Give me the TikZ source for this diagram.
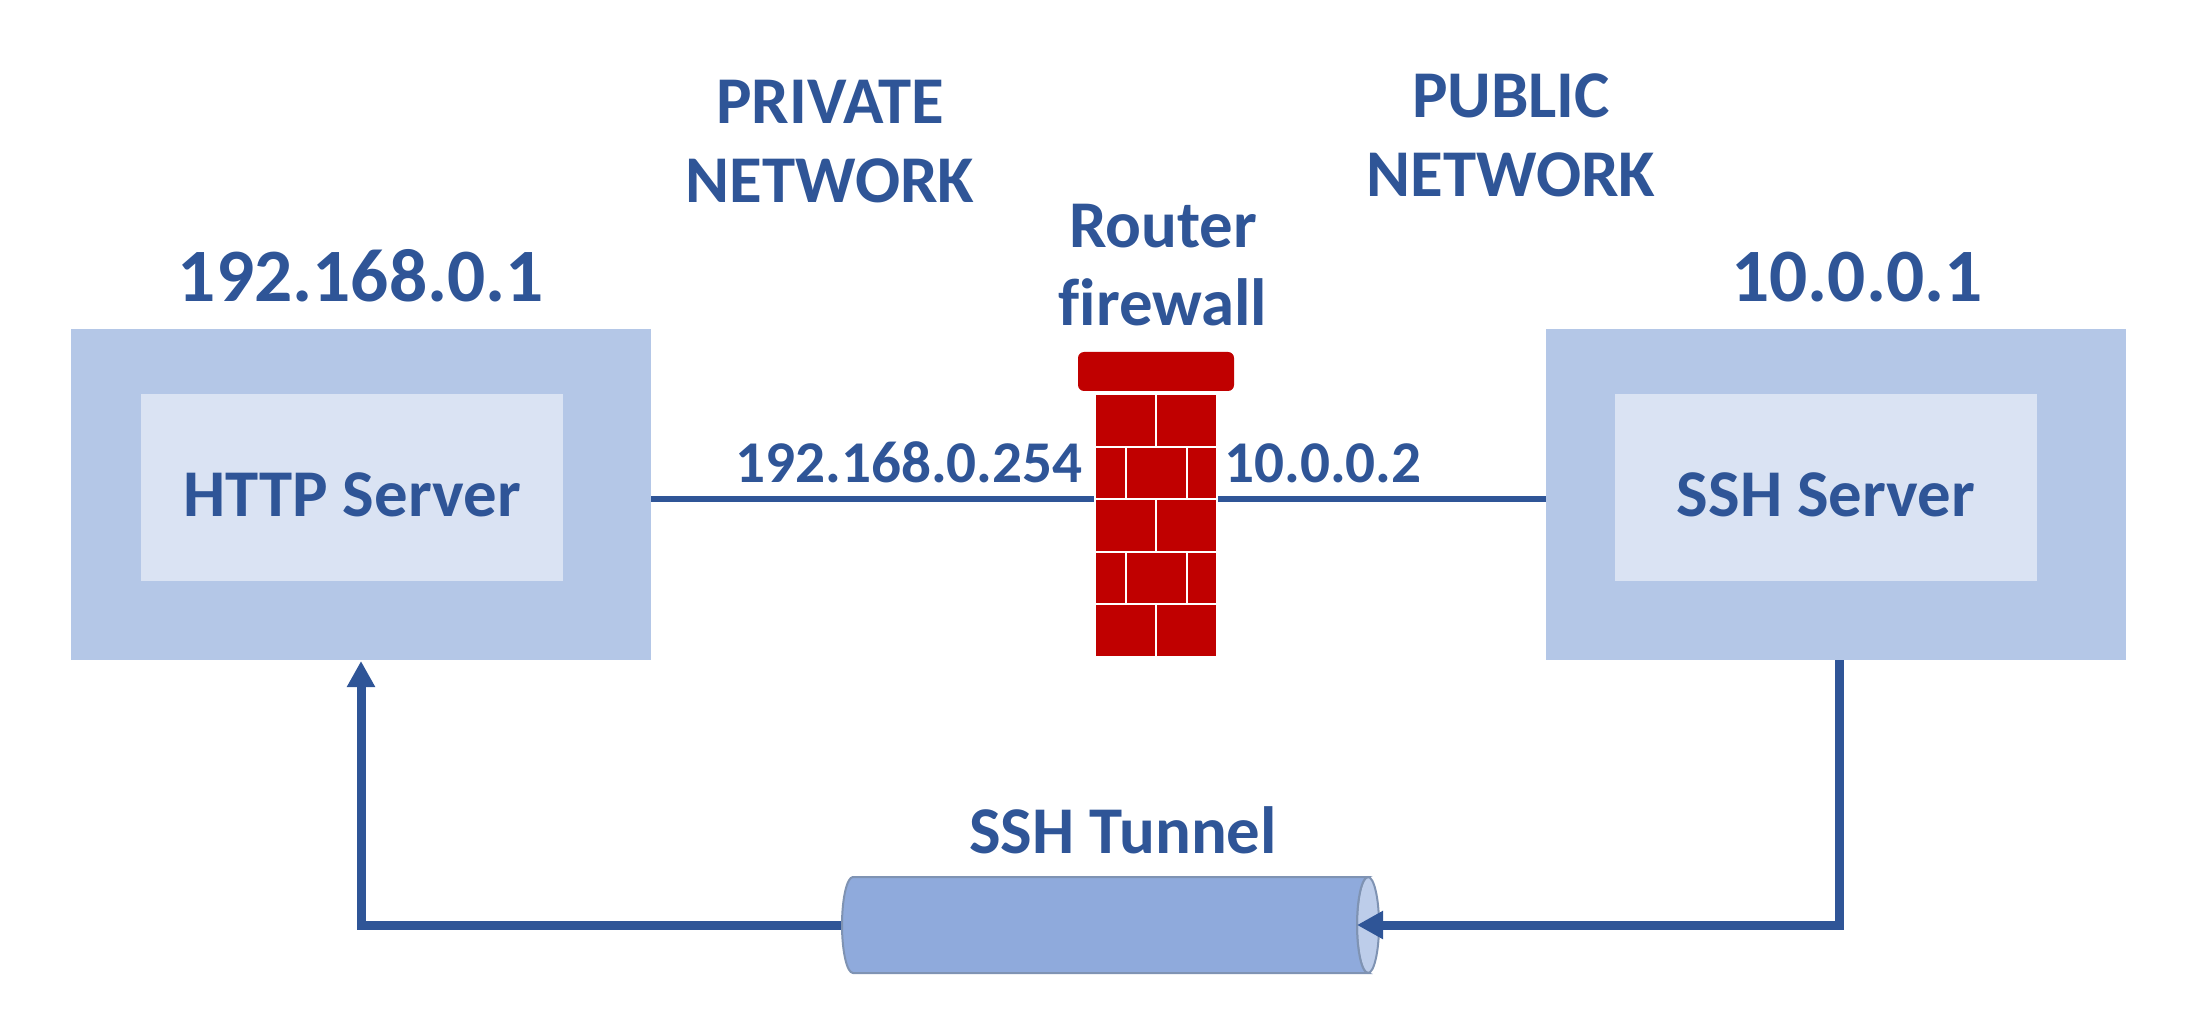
\documentclass[tikz,border=0pt]{standalone}
\usepackage{fontspec}
\setmainfont[Ligatures=NoCommon]{Carlito}
\usetikzlibrary{arrows.meta}
\definecolor{ink}{HTML}{2F5597}
\definecolor{outerblue}{HTML}{B4C7E7}
\definecolor{innerblue}{HTML}{DAE3F3}
\definecolor{brick}{HTML}{C00000}
\definecolor{tube}{HTML}{8FAADC}
\definecolor{tubeend}{HTML}{BDCDEA}
\definecolor{tubeedge}{HTML}{7F93B3}
\tikzset{
  x=0.5pt,y=-0.5pt,
  lbl/.style={font=\bfseries\fontsize{#1}{#1}\selectfont,text=ink,inner sep=0pt,outer sep=0pt,text height=0.64*#1,text depth=0pt,anchor=center},
  outerbox/.style={fill=outerblue,inner sep=0pt,outer sep=0pt,minimum width=290pt,minimum height=165.5pt},
  innerbox/.style={fill=innerblue,inner sep=0pt,outer sep=0pt,minimum width=211pt,minimum height=93.5pt},
  brickpart/.style={fill=brick},
  thinlink/.style={draw=ink,line width=3pt},
  thicklink/.style={draw=ink,line width=4.5pt,line join=miter},
  tunneltip/.style={-{Triangle[length=13pt,width=13.3pt]}},
  keep/.style={inner sep=0pt,outer sep=0pt}
}
\begin{document}
\begin{tikzpicture}
\useasboundingbox (0,0) rectangle (2206,1021);
% boxes
\node[outerbox] (httpouter) at (361,494.5) {};
\node[innerbox] (http) at (352,487.5) {};
\node[outerbox] (sshouter) at (1836,494.5) {};
\node[innerbox] (ssh) at (1826,487.5) {};
\node[lbl=33.4pt] (httplabel) at (352,495) {HTTP Server};
\node[lbl=33.4pt] (sshlabel) at (1826,495) {SSH Server};
% titles
\node[lbl=37.7pt] (ipa) at (361,277) {192.168.0.1};
\node[lbl=37.7pt] (ipb) at (1857,277) {10.0.0.1};
\node[lbl=33.4pt] (priv) at (830,102) {PRIVATE};
\node[lbl=33.4pt] (privb) at (830,181) {NETWORK};
\node[lbl=33.4pt] (pub) at (1511,96) {PUBLIC};
\node[lbl=33.4pt] (pubb) at (1511,175) {NETWORK};
\node[lbl=33.4pt] (router) at (1163,226) {Router};
\node[lbl=33.4pt] (fw) at (1163,304) {firewall};
\node[lbl=29.6pt] (ipc) at (909,464) {192.168.0.254};
\node[lbl=29.6pt] (ipd) at (1323,464) {10.0.0.2};
\node[lbl=33.4pt] (tunlabel) at (1123,832) {SSH Tunnel};
% firewall
\fill[brick,rounded corners=3pt] (1078,352) rectangle (1234,391);
\foreach \a/\b in {395/446,500/551,605/656}{
  \fill[brickpart] (1096,\a) rectangle (1155,\b);
  \fill[brickpart] (1157,\a) rectangle (1216,\b);
}
\foreach \a/\b in {448/498,553/603}{
  \fill[brickpart] (1096,\a) rectangle (1125,\b);
  \fill[brickpart] (1127,\a) rectangle (1186,\b);
  \fill[brickpart] (1188,\a) rectangle (1216,\b);
}
\node[keep,minimum width=62pt,minimum height=132pt] (wall) at (1156,525) {};
\coordinate (linky) at (0,499);
\draw[thinlink] (httpouter.east |- linky) -- (wall.west |- linky);
\draw[thinlink] (wall.east |- linky) -- (sshouter.west |- linky);
% tunnel
\node[keep,minimum width=269pt,minimum height=48pt] (tunnel) at (1111,925) {};
\draw[thicklink,tunneltip] (tunnel.west) -- (httpouter.south |- tunnel.west) -- ([yshift=-0.5pt]httpouter.south);
\filldraw[fill=tubeend,draw=tubeedge,line width=1pt] (1368,925) ellipse[x radius=5.5pt,y radius=24pt];
\filldraw[fill=tube,draw=tubeedge,line width=1pt] (853,877) -- (1368,877) arc[start angle=90,end angle=270,x radius=5.5pt,y radius=24pt] -- (853,973) arc[start angle=270,end angle=90,x radius=5.5pt,y radius=24pt] -- cycle;
\coordinate (sshdrop) at (1839,660);
\coordinate (tunnelin) at (1357,925);
\draw[thicklink,tunneltip] (sshdrop) -- (sshdrop |- tunnelin) -- (tunnelin);
\end{tikzpicture}
\end{document}
